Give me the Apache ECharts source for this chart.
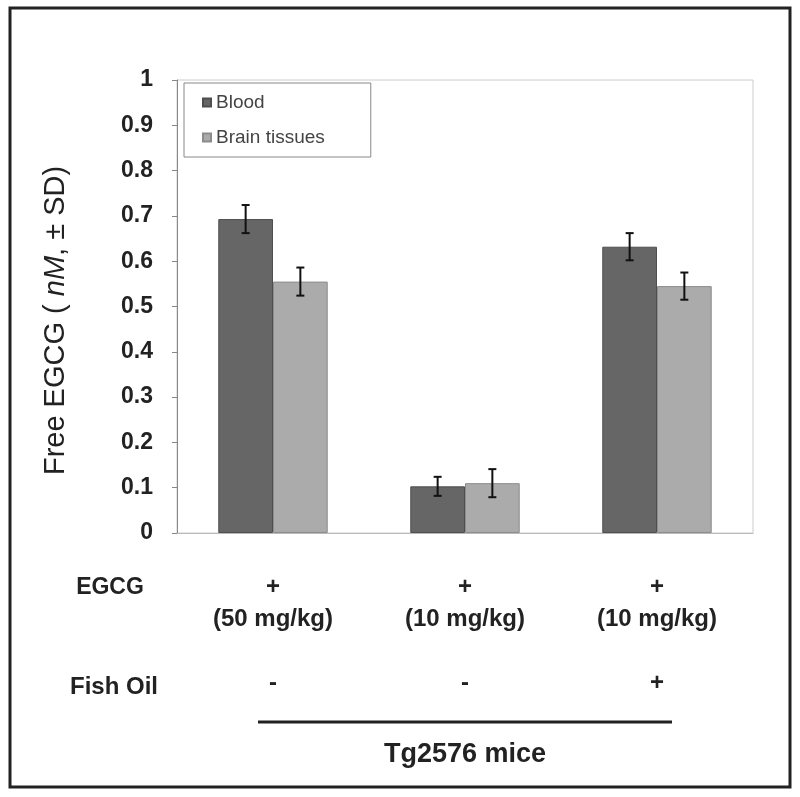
<!DOCTYPE html>
<html>
<head>
<meta charset="utf-8">
<title>Free EGCG</title>
<script src="https://cdn.jsdelivr.net/npm/echarts@6/dist/echarts.min.js"></script>
<style>
  html, body { margin: 0; padding: 0; background: #fff; }
  #chart { width: 800px; height: 797px; }
</style>
</head>
<body>
<div id="chart"></div>
<script>
// data
const doses = ["(50 mg/kg)", "(10 mg/kg)", "(10 mg/kg)"];
const egcgMarks = ["+", "+", "+"];
const fishOil = ["-", "-", "+"];
const blood = [0.693, 0.103, 0.632];
const bloodSD = [0.031, 0.021, 0.03];
const brain = [0.555, 0.11, 0.545];
const brainSD = [0.031, 0.031, 0.03];
const yTicks = [0, 0.1, 0.2, 0.3, 0.4, 0.5, 0.6, 0.7, 0.8, 0.9, 1];

const catGap = 0.43;
const labelFont = "'Liberation Sans', Arial, sans-serif";

var myChart = echarts.init(document.getElementById("chart"));

// error bar points: [category index, mean, sd, side]
let errData = [];
blood.forEach((v, i) => errData.push([i, v, bloodSD[i], -1]));
brain.forEach((v, i) => errData.push([i, v, brainSD[i], 1]));

function renderErr(params, api) {
  let band = api.size([1, 0])[0];
  let barW = band * (1 - catGap) / 2;
  let idx = api.value(0);
  let mean = api.value(1);
  let sd = api.value(2);
  let side = api.value(3);
  let hi = api.coord([idx, mean + sd]);
  let lo = api.coord([idx, mean - sd]);
  let x = hi[0] + side * barW / 2;
  let style = { stroke: "#111", lineWidth: 2 };
  return {
    type: "group",
    children: [
      { type: "line", shape: { x1: x, y1: hi[1], x2: x, y2: lo[1] }, style: style },
      { type: "line", shape: { x1: x - 4, y1: hi[1], x2: x + 4, y2: hi[1] }, style: style },
      { type: "line", shape: { x1: x - 4, y1: lo[1], x2: x + 4, y2: lo[1] }, style: style },
    ],
  };
}

let option = {
  animation: false,
  grid: {
    left: 177,
    right: 47,
    top: 80,
    bottom: 264,
    show: true,
    borderColor: "#cccccc",
    borderWidth: 1,
  },
  legend: {
    data: ["Blood", "Brain tissues"],
    orient: "vertical",
    left: 184,
    top: 83,
    icon: "rect",
    itemWidth: 8,
    itemHeight: 8,
    itemGap: 16,
    padding: [10, 46, 10, 18],
    borderColor: "#888",
    borderWidth: 1,
    textStyle: { fontSize: 19, color: "#444", fontFamily: labelFont },
  },
  xAxis: [
    {
      type: "category",
      data: doses,
      axisLine: { lineStyle: { color: "#bbbbbb" } },
      axisTick: { show: false },
      axisLabel: {
        margin: 38,
        formatter: function (val, i) {
          return egcgMarks[i] + "\n" + val;
        },
        fontSize: 24,
        fontWeight: "bold",
        lineHeight: 32,
        color: "#222",
        fontFamily: labelFont,
      },
    },
    {
      type: "category",
      position: "bottom",
      offset: 126,
      data: fishOil,
      axisLine: { show: false },
      axisTick: { show: false },
      axisLabel: {
        margin: 8,
        fontSize: 24,
        fontWeight: "bold",
        lineHeight: 32,
        color: "#222",
        fontFamily: labelFont,
      },
    },
  ],
  yAxis: {
    type: "value",
    min: 0,
    max: 1,
    interval: 0.1,
    name: "{a|Free EGCG ( }{b|nM}{a|, ± SD)}",
    nameLocation: "middle",
    nameGap: 107,
    nameTextStyle: {
      padding: [0, 28, 0, 0],
      rich: {
        a: { fontSize: 29, color: "#222", fontFamily: labelFont },
        b: { fontSize: 29, color: "#222", fontStyle: "italic", fontFamily: labelFont },
      },
    },
    axisLine: { show: true, lineStyle: { color: "#888" } },
    axisTick: { show: true, length: 5, lineStyle: { color: "#888" } },
    splitLine: { show: false },
    axisLabel: {
      margin: 24,
      fontSize: 23,
      fontWeight: "bold",
      color: "#222",
      fontFamily: labelFont,
      formatter: function (v) {
        let t = yTicks.find((k) => Math.abs(k - v) < 1e-6);
        return t === undefined ? "" : String(t);
      },
    },
  },
  series: [
    {
      name: "Blood",
      type: "bar",
      data: blood,
      barGap: "0%",
      barCategoryGap: catGap * 100 + "%",
      itemStyle: { color: "#666666", borderColor: "#4e4e4e", borderWidth: 1 },
    },
    {
      name: "Brain tissues",
      type: "bar",
      data: brain,
      barGap: "0%",
      barCategoryGap: catGap * 100 + "%",
      itemStyle: { color: "#ababab", borderColor: "#8c8c8c", borderWidth: 1 },
    },
    {
      name: "sd",
      type: "custom",
      renderItem: renderErr,
      data: errData,
      z: 10,
    },
  ],
  graphic: [
    {
      type: "rect",
      shape: { x: 10, y: 8, width: 780, height: 779 },
      style: { fill: null, stroke: "#222", lineWidth: 3 },
    },
    {
      type: "text",
      x: 110,
      y: 588,
      style: {
        text: "EGCG",
        fontSize: 23,
        fontWeight: "bold",
        fill: "#222",
        fontFamily: labelFont,
        textAlign: "center",
        textVerticalAlign: "middle",
      },
    },
    {
      type: "text",
      x: 114,
      y: 687,
      style: {
        text: "Fish Oil",
        fontSize: 24,
        fontWeight: "bold",
        fill: "#222",
        fontFamily: labelFont,
        textAlign: "center",
        textVerticalAlign: "middle",
      },
    },
    {
      type: "line",
      shape: { x1: 258, y1: 722, x2: 672, y2: 722 },
      style: { stroke: "#222", lineWidth: 3 },
    },
    {
      type: "text",
      x: 465,
      y: 755,
      style: {
        text: "Tg2576 mice",
        fontSize: 27,
        fontWeight: "bold",
        fill: "#222",
        fontFamily: labelFont,
        textAlign: "center",
        textVerticalAlign: "middle",
      },
    },
  ],
};

myChart.setOption(option);
</script>
</body>
</html>
